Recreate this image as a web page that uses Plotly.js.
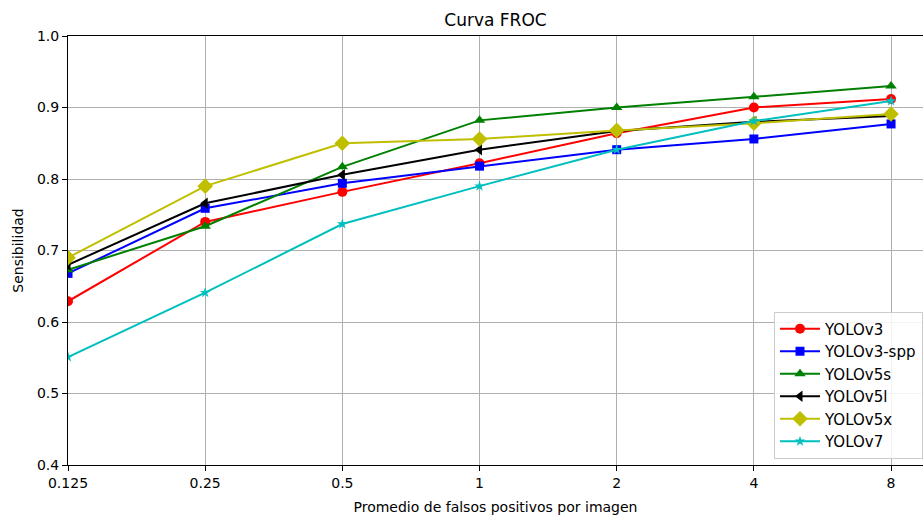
<!DOCTYPE html>
<html><head><meta charset="utf-8">
<script src="https://cdn.plot.ly/plotly-3.0.1.min.js"></script>
<style>html,body{margin:0;padding:0;background:#fff}#chart{width:923px;height:515px}</style>
</head><body><div id="chart"></div>
<script>
const fppi = [0.125, 0.25, 0.5, 1, 2, 4, 8];
const tickLabels = ["0.125", "0.25", "0.5", "1", "2", "4", "8"];
const seriesNames = ["YOLOv3", "YOLOv3-spp", "YOLOv5s", "YOLOv5l", "YOLOv5x", "YOLOv7"];
const yolov3    = [0.629, 0.740, 0.782, 0.822, 0.864, 0.900, 0.912];
const yolov3spp = [0.668, 0.759, 0.794, 0.818, 0.841, 0.856, 0.877];
const yolov5s   = [0.673, 0.734, 0.817, 0.882, 0.900, 0.915, 0.930];
const yolov5l   = [0.680, 0.766, 0.806, 0.841, 0.867, 0.880, 0.888];
const yolov5x   = [0.690, 0.790, 0.850, 0.856, 0.868, 0.878, 0.891];
const yolov7    = [0.551, 0.641, 0.737, 0.790, 0.841, 0.881, 0.909];

const values = [yolov3, yolov3spp, yolov5s, yolov5l, yolov5x, yolov7];
const colors = ["#ff0000", "#0000ff", "#008000", "#000000", "#bfbf00", "#00bfbf"];
const symbols = ["circle", "square", "triangle-up", "triangle-left", "diamond", "star"];
const sizes = [10, 9, 10, 10, 12, 8];

const traces = values.map((v, i) => ({
  x: fppi, y: v, name: seriesNames[i], type: "scatter", mode: "lines+markers",
  line: {color: colors[i], width: 2},
  marker: {color: colors[i], symbol: symbols[i], size: sizes[i]}
}));

const font = {family: "DejaVu Sans", size: 14, color: "#000"};
const layout = {
  width: 923, height: 515,
  margin: {l: 68, r: 0, t: 36, b: 50},
  paper_bgcolor: "#fff", plot_bgcolor: "#fff",
  font: font,
  title: {text: "Curva FROC", font: {family: "DejaVu Sans", size: 17, color: "#000"}, x: 0.5, xref: "paper", y: 0.961, yanchor: "middle"},
  xaxis: {
    type: "log", range: [Math.log10(0.125), 0.9732],
    tickvals: fppi, ticktext: tickLabels,
    showgrid: true, gridcolor: "#b0b0b0", gridwidth: 1,
    showline: true, linecolor: "#000", linewidth: 1, mirror: true,
    ticks: "outside", ticklen: 5, tickcolor: "#000",
    zeroline: false,
    title: {text: "Promedio de falsos positivos por imagen", font: font, standoff: 12}
  },
  yaxis: {
    range: [0.4, 1.0], dtick: 0.1, tick0: 0.4, tickformat: ".1f",
    showgrid: true, gridcolor: "#b0b0b0", gridwidth: 1,
    showline: true, linecolor: "#000", linewidth: 1,
    ticks: "outside", ticklen: 5, tickcolor: "#000",
    zeroline: false,
    title: {text: "Sensibilidad", font: font, standoff: 10}
  },
  showlegend: true,
  legend: {
    x: 1.0, xanchor: "right", y: 0.015, yanchor: "bottom",
    bgcolor: "rgba(255,255,255,0.85)", bordercolor: "#cccccc", borderwidth: 1,
    font: {family: "DejaVu Sans", size: 15, color: "#000"},
    tracegroupgap: 0, itemwidth: 40
  }
};
Plotly.newPlot("chart", traces, layout, {displayModeBar: false, staticPlot: true});
</script></body></html>
